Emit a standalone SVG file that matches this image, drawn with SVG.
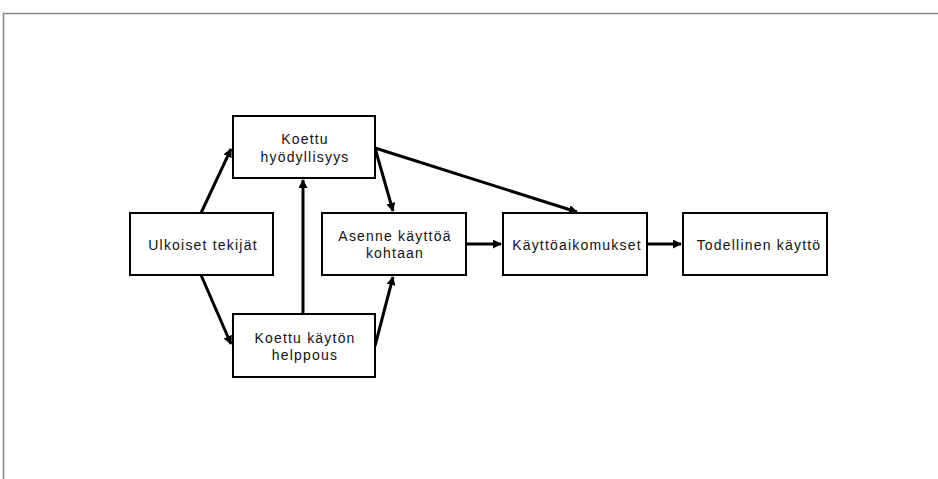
<svg xmlns="http://www.w3.org/2000/svg" width="938" height="479" viewBox="0 0 938 479">
<style>
.box{fill:#fff;stroke:#000;stroke-width:2}
.t{font-family:"Liberation Sans",Arial,sans-serif;font-size:14px;fill:#111;text-anchor:middle;letter-spacing:1.2px}
.c{stroke:#000;stroke-width:3;fill:none;marker-end:url(#ah)}
.frame{stroke:#888;stroke-width:1.5;fill:none}
</style>
<defs>
<marker id="ah" viewBox="0 0 10 10" refX="9" refY="5" markerWidth="3" markerHeight="3" orient="auto" markerUnits="strokeWidth">
<path d="M0,0 L10,5 L0,10 z" fill="#000"/>
</marker>
</defs>
<rect width="938" height="479" fill="#fff"/>
<path class="frame" d="M938,13.5 H3.5 V479"/>
<g id="connectors">
<line class="c" x1="201" y1="213" x2="231" y2="149"/>
<line class="c" x1="201" y1="275" x2="231" y2="344"/>
<line class="c" x1="303" y1="314" x2="303" y2="180"/>
<line class="c" x1="375" y1="148" x2="393" y2="211"/>
<line class="c" x1="375" y1="148" x2="577" y2="212"/>
<line class="c" x1="375" y1="346" x2="393" y2="277"/>
<line class="c" x1="466" y1="244" x2="501" y2="244"/>
<line class="c" x1="647" y1="244" x2="681" y2="244"/>
</g>
<g id="n-hyodyllisyys">
<rect class="box" x="233" y="116" width="142" height="62"/>
<text class="t" x="305" y="144">Koettu</text>
<text class="t" x="305" y="162">hyödyllisyys</text>
</g>
<g id="n-ulkoiset">
<rect class="box" x="130" y="213" width="143" height="62"/>
<text class="t" x="203" y="250">Ulkoiset tekijät</text>
</g>
<g id="n-asenne">
<rect class="box" x="322" y="213" width="144" height="62"/>
<text class="t" x="395" y="241">Asenne käyttöä</text>
<text class="t" x="395" y="258">kohtaan</text>
</g>
<g id="n-helppous">
<rect class="box" x="233" y="314" width="142" height="63"/>
<text class="t" x="305" y="343">Koettu käytön</text>
<text class="t" x="305" y="360">helppous</text>
</g>
<g id="n-aikomukset">
<rect class="box" x="503" y="213" width="144" height="62"/>
<text class="t" x="577" y="250">Käyttöaikomukset</text>
</g>
<g id="n-todellinen">
<rect class="box" x="683" y="213" width="144" height="62"/>
<text class="t" x="759" y="250">Todellinen käyttö</text>
</g>
</svg>
